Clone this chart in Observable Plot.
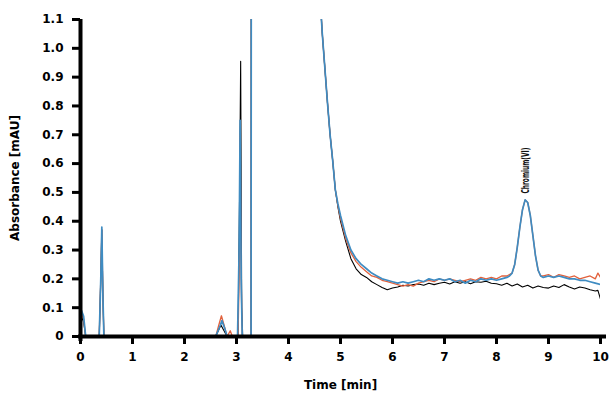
<!DOCTYPE html>
<html>
<head>
<meta charset="utf-8">
<script src="https://cdn.jsdelivr.net/npm/d3@7"></script>
<script src="https://cdn.jsdelivr.net/npm/@observablehq/plot@0.6"></script>
<style>
  html, body { margin: 0; padding: 0; background: #fff; }
  #chart { width: 610px; height: 397px; }
</style>
</head>
<body>
<div id="chart"></div>
<script>
// Tick values
const xTicks = [0, 1, 2, 3, 4, 5, 6, 7, 8, 9, 10];
const yTicks = [0, 0.1, 0.2, 0.3, 0.4, 0.5, 0.6, 0.7, 0.8, 0.9, 1.0, 1.1];

// Series: [time (min), absorbance (mAU)]
const blank = [
  [0,0],[0.02,0.07],[0.06,0.05],[0.1,0],[0.36,0],[0.39,0.2],[0.41,0.37],[0.43,0.15],[0.45,0],
  [2.6,0],[2.7,0.04],[2.76,0.02],[2.82,0],[3.03,0],[3.06,0.5],[3.08,0.955],[3.1,0.1],[3.12,0],
  [3.28,0],[3.29,3],[4.5,3],[4.6,1.2],[4.65,1.05],[4.7,0.93],[4.75,0.81],[4.8,0.70],[4.85,0.61],
  [4.9,0.51],[4.95,0.45],[5.0,0.40],[5.1,0.33],[5.2,0.27],[5.3,0.235],[5.4,0.215],[5.5,0.205],
  [5.6,0.19],[5.7,0.18],[5.8,0.17],[5.9,0.162],[6.0,0.168],[6.1,0.172],[6.2,0.178],[6.3,0.175],
  [6.4,0.18],[6.5,0.182],[6.6,0.178],[6.7,0.185],[6.8,0.18],[6.9,0.185],[7.0,0.188],[7.1,0.182],
  [7.2,0.19],[7.3,0.185],[7.4,0.19],[7.5,0.183],[7.6,0.19],[7.7,0.188],[7.8,0.192],[7.9,0.185],
  [8.0,0.183],[8.1,0.178],[8.2,0.185],[8.3,0.175],[8.4,0.182],[8.5,0.172],[8.6,0.178],[8.7,0.168],
  [8.8,0.175],[8.9,0.17],[9.0,0.168],[9.1,0.175],[9.2,0.17],[9.3,0.18],[9.4,0.172],[9.5,0.165],
  [9.6,0.172],[9.7,0.168],[9.8,0.162],[9.9,0.158],[9.95,0.16],[10.0,0.13]
];
const sample = [
  [0,0],[0.02,0.08],[0.06,0.06],[0.1,0],[0.36,0],[0.39,0.2],[0.41,0.37],[0.43,0.15],[0.45,0],
  [2.6,0],[2.66,0.04],[2.71,0.072],[2.76,0.04],[2.82,0],[2.88,0.02],[2.92,0],[3.03,0],[3.06,0.3],
  [3.07,0.7],[3.09,0.2],[3.11,0],[3.28,0],[3.29,3],[4.5,3],[4.6,1.2],[4.65,1.05],[4.7,0.93],
  [4.75,0.81],[4.8,0.70],[4.85,0.61],[4.9,0.51],[4.95,0.455],[5.0,0.41],[5.1,0.34],[5.2,0.29],
  [5.3,0.26],[5.4,0.24],[5.5,0.225],[5.6,0.21],[5.7,0.205],[5.8,0.195],[5.9,0.19],[6.0,0.185],
  [6.1,0.18],[6.2,0.175],[6.3,0.18],[6.4,0.175],[6.5,0.185],[6.6,0.19],[6.7,0.195],[6.8,0.19],
  [6.9,0.2],[7.0,0.195],[7.1,0.2],[7.2,0.195],[7.3,0.19],[7.4,0.195],[7.5,0.2],[7.6,0.195],
  [7.7,0.205],[7.8,0.2],[7.9,0.205],[8.0,0.2],[8.1,0.21],[8.2,0.21],[8.25,0.215],[8.3,0.22],
  [8.35,0.25],[8.4,0.31],[8.45,0.38],[8.5,0.44],[8.55,0.474],[8.6,0.465],[8.65,0.42],[8.7,0.35],
  [8.75,0.28],[8.8,0.23],[8.85,0.21],[8.9,0.21],[9.0,0.215],[9.1,0.205],[9.2,0.215],[9.3,0.21],
  [9.4,0.205],[9.5,0.21],[9.6,0.2],[9.7,0.205],[9.8,0.21],[9.9,0.2],[9.95,0.22],[10.0,0.205]
];
const spiked = [
  [0,0],[0.02,0.09],[0.06,0.07],[0.1,0],[0.36,0],[0.39,0.2],[0.41,0.38],[0.43,0.15],[0.45,0],
  [2.6,0],[2.68,0.035],[2.72,0.055],[2.77,0.03],[2.82,0],[3.02,0],[3.05,0.3],[3.07,0.75],
  [3.09,0.2],[3.11,0],[3.28,0],[3.29,3],[4.5,3],[4.6,1.2],[4.65,1.05],[4.7,0.93],[4.75,0.81],
  [4.8,0.70],[4.85,0.61],[4.9,0.51],[4.95,0.46],[5.0,0.42],[5.1,0.35],[5.2,0.30],[5.3,0.27],
  [5.4,0.25],[5.5,0.235],[5.6,0.22],[5.7,0.21],[5.8,0.20],[5.9,0.195],[6.0,0.19],[6.1,0.185],
  [6.2,0.19],[6.3,0.185],[6.4,0.19],[6.5,0.195],[6.6,0.19],[6.7,0.2],[6.8,0.195],[6.9,0.2],
  [7.0,0.195],[7.1,0.2],[7.2,0.19],[7.3,0.195],[7.4,0.185],[7.5,0.195],[7.6,0.19],[7.7,0.2],
  [7.8,0.195],[7.9,0.2],[8.0,0.195],[8.1,0.2],[8.2,0.205],[8.25,0.21],[8.3,0.22],[8.35,0.25],
  [8.4,0.31],[8.45,0.38],[8.5,0.44],[8.55,0.474],[8.6,0.465],[8.65,0.42],[8.7,0.35],[8.75,0.28],
  [8.8,0.23],[8.85,0.21],[8.9,0.205],[9.0,0.21],[9.1,0.205],[9.2,0.21],[9.3,0.205],[9.4,0.2],
  [9.5,0.2],[9.6,0.195],[9.7,0.195],[9.8,0.19],[9.9,0.185],[10.0,0.18]
];

// Peak annotation
const peakLabels = [{t: 8.56, v: 0.496, name: "Chromium(VI)"}];

const toRows = (arr) => arr.map(([t, v]) => ({t, v}));

const chart = Plot.plot({
  width: 610,
  height: 397,
  marginLeft: 80,
  marginRight: 10,
  marginTop: 19,
  marginBottom: 61,
  style: {fontFamily: "'DejaVu Sans', sans-serif", background: "#fff", color: "#000"},
  x: {domain: [0, 10]},
  y: {domain: [0, 1.1]},
  marks: [
    Plot.line(toRows(blank), {x: "t", y: "v", stroke: "#000", strokeWidth: 1.1, clip: true}),
    Plot.line(toRows(sample), {x: "t", y: "v", stroke: "#e2613c", strokeWidth: 1.3, clip: true}),
    Plot.line(toRows(spiked), {x: "t", y: "v", stroke: "#3f8cc2", strokeWidth: 1.7, clip: true}),
    Plot.text(peakLabels, {x: "t", y: "v", text: "name", rotate: -90, textAnchor: "start",
      fontSize: 10, fontWeight: "bold", fill: "#111", className: "peak-label",
      fontFamily: "'DejaVu Sans Condensed', 'DejaVu Sans', sans-serif"}),
    Plot.axisY({ticks: yTicks, tickSize: 8, strokeWidth: 3, tickPadding: 9,
      tickFormat: d => d === 0 ? "0" : d.toFixed(1), fontSize: 12, fontWeight: "bold",
      label: "Absorbance [mAU]", labelAnchor: "center", labelArrow: "none", labelOffset: 70}),
    Plot.axisX({ticks: xTicks, tickSize: 8, strokeWidth: 3, tickPadding: 8,
      tickFormat: d => String(d), fontSize: 12, fontWeight: "bold",
      label: "Time [min]", labelAnchor: "center", labelArrow: "none", labelOffset: 52}),
    Plot.ruleX([0], {stroke: "#000", strokeWidth: 4, insetBottom: -5}),
    Plot.ruleY([0], {stroke: "#000", strokeWidth: 4, insetRight: -6, insetLeft: -2})
  ]
});
// compress the rotated peak label to the reference's condensed length
chart.querySelectorAll(".peak-label text").forEach(t => {
  t.setAttribute("textLength", "46");
  t.setAttribute("lengthAdjust", "spacingAndGlyphs");
});
document.getElementById("chart").appendChild(chart);
</script>
</body>
</html>
